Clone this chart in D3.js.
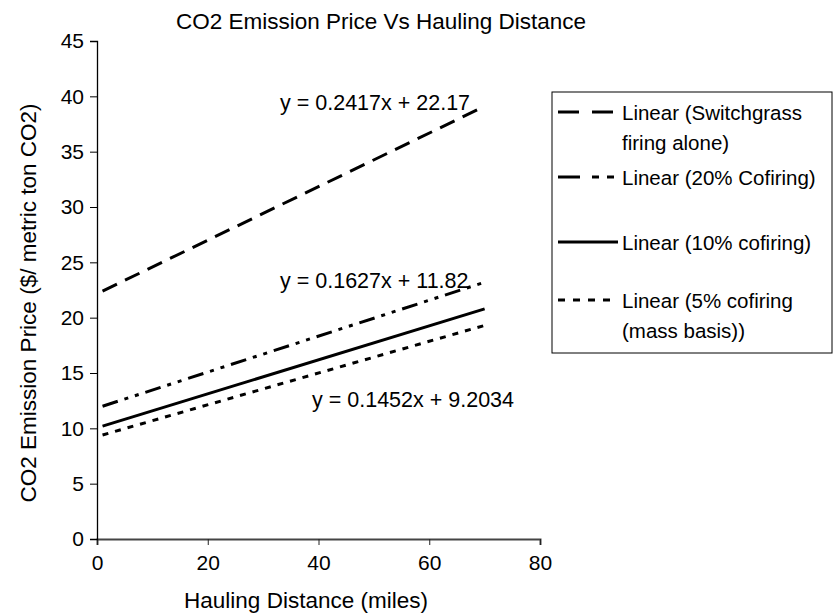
<!DOCTYPE html>
<html>
<head>
<meta charset="utf-8">
<script src="https://cdn.jsdelivr.net/npm/d3@7"></script>
<style>
  body { margin: 0; background: #fff; }
  text { font-family: "Liberation Sans", Arial, sans-serif; }
</style>
</head>
<body>
<svg id="chart" width="833" height="615"></svg>
<script>
// trendline end points (x in miles, y in $/ton)
const xs = [1, 70];
const switchgrass = [22.4, 39.1];
const cofire20 = [12.0, 23.2];
const cofire10 = [10.2, 20.8];
const cofire5 = [9.4, 19.3];

const xTicks = [0, 20, 40, 60, 80];
const yTicks = [0, 5, 10, 15, 20, 25, 30, 35, 40, 45];

const series = [
  { name: ["Linear (Switchgrass", "firing alone)"], vals: switchgrass, dash: "16,9", legDash: "21,13" },
  { name: ["Linear (20% Cofiring)"], vals: cofire20, dash: "16,7,4,7,4,7", legDash: "22,12,7,8,7,8" },
  { name: ["Linear (10% cofiring)"], vals: cofire10, dash: null, legDash: null },
  { name: ["Linear (5% cofiring", "(mass basis))"], vals: cofire5, dash: "6,7", legDash: "7,8" }
];

const equations = [
  { t: "y = 0.2417x + 22.17", x: 280, y: 110 },
  { t: "y = 0.1627x + 11.82", x: 280, y: 288 },
  { t: "y = 0.1452x + 9.2034", x: 312, y: 407 }
];

const svg = d3.select("#chart");
const x = d3.scaleLinear().domain([0, 80]).range([97, 540]);
const y = d3.scaleLinear().domain([0, 45]).range([539, 41]);

svg.append("g")
  .attr("transform", "translate(0,539)")
  .call(d3.axisBottom(x).tickValues(xTicks).tickSize(6).tickPadding(10))
  .call(g => g.select(".domain").attr("stroke", "#444").attr("stroke-width", 2))
  .call(g => g.selectAll(".tick line").attr("stroke", "#222"))
  .call(g => g.selectAll("text").attr("font-size", 21).attr("fill", "#000")
    .attr("font-family", "Liberation Sans, Arial, sans-serif"));

svg.append("g")
  .attr("transform", "translate(97,0)")
  .call(d3.axisLeft(y).tickValues(yTicks).tickSize(7).tickPadding(6))
  .call(g => g.select(".domain").attr("stroke", "#000").attr("stroke-width", 1.3))
  .call(g => g.selectAll("text").attr("font-size", 21).attr("fill", "#000")
    .attr("font-family", "Liberation Sans, Arial, sans-serif"));

const line = d3.line().x((d, i) => x(xs[i])).y(d => y(d));

svg.selectAll("path.trend").data(series).join("path")
  .attr("class", "trend")
  .attr("d", d => line(d.vals))
  .attr("fill", "none")
  .attr("stroke", "#000")
  .attr("stroke-width", 3)
  .attr("stroke-dasharray", d => d.dash);

svg.selectAll("text.eq").data(equations).join("text")
  .attr("class", "eq")
  .attr("x", d => d.x).attr("y", d => d.y)
  .attr("font-size", 21.5)
  .text(d => d.t);

svg.append("text")
  .attr("x", 381).attr("y", 29)
  .attr("text-anchor", "middle").attr("font-size", 22.5)
  .text("CO2 Emission Price Vs Hauling Distance");

svg.append("text")
  .attr("x", 306).attr("y", 608)
  .attr("text-anchor", "middle").attr("font-size", 22.5)
  .text("Hauling Distance (miles)");

svg.append("text")
  .attr("transform", "translate(36,303) rotate(-90)")
  .attr("text-anchor", "middle").attr("font-size", 22.5)
  .text("CO2 Emission Price ($/ metric ton CO2)");

// legend
const lg = svg.append("g");
lg.append("rect")
  .attr("x", 552).attr("y", 92).attr("width", 280).attr("height", 261)
  .attr("fill", "#fff").attr("stroke", "#000").attr("stroke-width", 1);

const rowY = [112, 177, 242, 300];
series.forEach((s, i) => {
  lg.append("line")
    .attr("x1", 558).attr("x2", 618)
    .attr("y1", rowY[i]).attr("y2", rowY[i])
    .attr("stroke", "#000").attr("stroke-width", 3)
    .attr("stroke-dasharray", s.legDash);
  s.name.forEach((t, j) => {
    lg.append("text")
      .attr("x", 622).attr("y", rowY[i] + 8 + j * 30)
      .attr("font-size", 20.5)
      .text(t);
  });
});
</script>
</body>
</html>
